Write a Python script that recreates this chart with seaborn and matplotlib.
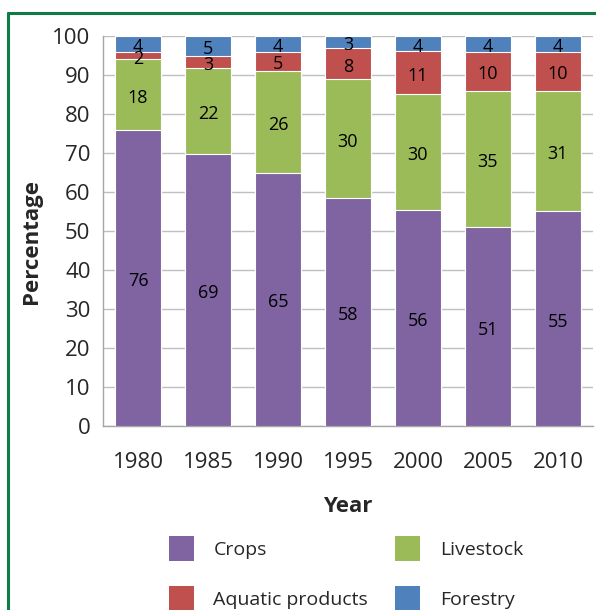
import numpy as np
import pandas as pd
import matplotlib
matplotlib.use("Agg")
import matplotlib.pyplot as plt
from matplotlib.lines import Line2D
from matplotlib.patches import Patch
import seaborn as sns

# ==========================
# DATA
# ==========================
years = ["1980", "1985", "1990", "1995", "2000", "2005", "2010"]
crops = [76, 69, 65, 58, 56, 51, 55]
livestock = [18, 22, 26, 30, 30, 35, 31]
aquatic = [2, 3, 5, 8, 11, 10, 10]
forestry = [4, 5, 4, 3, 4, 4, 4]

series = ["Crops", "Livestock", "Aquatic products", "Forestry"]
colors = ["#8064A2", "#9BBB59", "#C0504D", "#4F81BD"]

df = pd.DataFrame({"Year": years, "Crops": crops, "Livestock": livestock,
                   "Aquatic products": aquatic, "Forestry": forestry})

# 100% stacked -> normalise each year
pct = df[series].div(df[series].sum(axis=1), axis=0) * 100
cum = pct.cumsum(axis=1)

# ==========================
# STYLE
# ==========================
sns.set_style("white")
plt.rcParams["font.family"] = ["Open Sans", "DejaVu Sans"]

fig = plt.figure(figsize=(5.96, 6.10), dpi=100)
ax = fig.add_axes([103/596, 1-426/610, 490/596, 390/610])

# draw tallest cumulative first so lower segments sit on top
for s, c in zip(series[::-1], colors[::-1]):
    sns.barplot(x=df["Year"], y=cum[s], color=c, saturation=1, width=0.66,
                edgecolor="white", linewidth=0.8, ax=ax, zorder=3)

# segment labels
for i in range(len(years)):
    bottom = 0
    for s in series:
        h = pct[s].iloc[i]
        ax.text(i, bottom + h/2 - 0.8, str(df[s].iloc[i]), ha="center", va="center",
                fontsize=13, color="black", zorder=5)
        bottom += h

ax.set_ylim(0, 100)
ax.set_xlim(-0.5, len(years) - 0.5)
ax.set_yticks(np.arange(0, 101, 10))
ax.yaxis.grid(True, color="#BFBFBF", linewidth=1, zorder=0)
ax.set_axisbelow(True)

for sp in ["top", "right"]:
    ax.spines[sp].set_visible(False)
for sp in ["left", "bottom"]:
    ax.spines[sp].set_color("#A6A6A6")
    ax.spines[sp].set_linewidth(1)

ax.tick_params(axis="y", labelsize=16, length=5, width=1, color="#A6A6A6", pad=4, direction="out")
ax.tick_params(axis="x", which="major", labelsize=16, length=0, pad=19)
ax.set_xticks(np.arange(-0.5, len(years), 1), minor=True)
ax.tick_params(axis="x", which="minor", length=7, width=1, color="#A6A6A6", direction="out")

ax.set_xlabel("Year", fontsize=16, fontweight="bold")
ax.set_ylabel("Percentage", fontsize=16, fontweight="bold")
ax.xaxis.set_label_coords(0.5, (426-506)/390)
ax.xaxis.label.set_va("center")
ax.yaxis.set_label_coords((32-103)/490, 0.474)
ax.yaxis.label.set_va("center")

# ==========================
# LEGEND
# ==========================
handles = [Patch(facecolor=c, edgecolor="none") for c in colors]
order = [0, 2, 1, 3]
fig.legend([handles[k] for k in order], [series[k] for k in order],
           ncol=2, loc="upper left", bbox_to_anchor=(169/596, 1-536/610),
           frameon=False, fontsize=14, handlelength=1.28, handleheight=1.6,
           handletextpad=1.0, columnspacing=1.4, labelspacing=1.3,
           borderpad=0, borderaxespad=0)

# green frame
fig.add_artist(Line2D([8/596, 1], [1-13/610, 1-13/610], color="#107C41", linewidth=2.2))
fig.add_artist(Line2D([8/596, 8/596], [0, 1-13/610], color="#107C41", linewidth=2.2))

fig.savefig("out.png", dpi=100)
